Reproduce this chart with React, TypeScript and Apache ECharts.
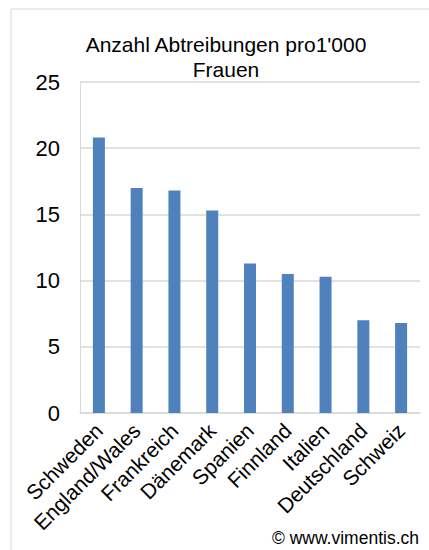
import React, { useEffect, useRef } from "react";
import * as echarts from "echarts";

const titleLines = ["Anzahl Abtreibungen pro1'000", "Frauen"];
const categories = ["Schweden", "England/Wales", "Frankreich", "Dänemark", "Spanien", "Finnland", "Italien", "Deutschland", "Schweiz"];
const values = [20.8, 17.0, 16.8, 15.3, 11.3, 10.5, 10.3, 7.0, 6.8];
const yMin = 0;
const yMax = 25;
const yStep = 5;
const footer = "© www.vimentis.ch";

const FONT = "'Liberation Sans', Arial, sans-serif";

export default function App() {
  const ref = useRef<HTMLDivElement>(null);
  useEffect(() => {
    const chart = echarts.init(ref.current!, null, { renderer: "svg" });
    chart.setOption({
      animation: false,
      backgroundColor: "#ffffff",
      title: {
        text: titleLines.join("\n"),
        left: 221,
        textAlign: "center",
        top: 27,
        textStyle: { fontFamily: FONT, fontSize: 21, fontWeight: "normal", color: "#000", lineHeight: 25 },
      },
      grid: { left: 80, right: 9, top: 82, bottom: 137, containLabel: false },
      xAxis: {
        type: "category",
        data: categories,
        axisLine: { show: true, lineStyle: { color: "#d9d9d9", width: 1.5 } },
        axisTick: { show: false },
        axisLabel: {
          rotate: 45,
          interval: 0,
          margin: 14,
          fontFamily: FONT,
          fontSize: 21,
          color: "#000",
        },
      },
      yAxis: {
        type: "value",
        min: yMin,
        max: yMax,
        interval: yStep,
        axisLine: { show: true, lineStyle: { color: "#d9d9d9", width: 1 } },
        axisTick: { show: false },
        splitLine: { show: true, lineStyle: { color: "#d9d9d9", width: 1.5 } },
        axisLabel: { margin: 20, fontFamily: FONT, fontSize: 22, color: "#000" },
      },
      series: [
        {
          type: "bar",
          data: values,
          barWidth: 12,
          itemStyle: { color: "#4f81bd" },
        },
      ],
      graphic: [
        {
          type: "rect",
          shape: { x: 11, y: 9, width: 430, height: 560 },
          style: { fill: "none", stroke: "#d9d9d9", lineWidth: 1 },
          silent: true,
        },
        {
          type: "text",
          right: 10,
          top: 529,
          style: { text: footer, fontFamily: FONT, fontSize: 17.5, fill: "#000" },
        },
      ],
    });
    return () => chart.dispose();
  }, []);
  return <div ref={ref} style={{ position: "fixed", left: 0, top: 0, width: 429, height: 550 }} />;
}
